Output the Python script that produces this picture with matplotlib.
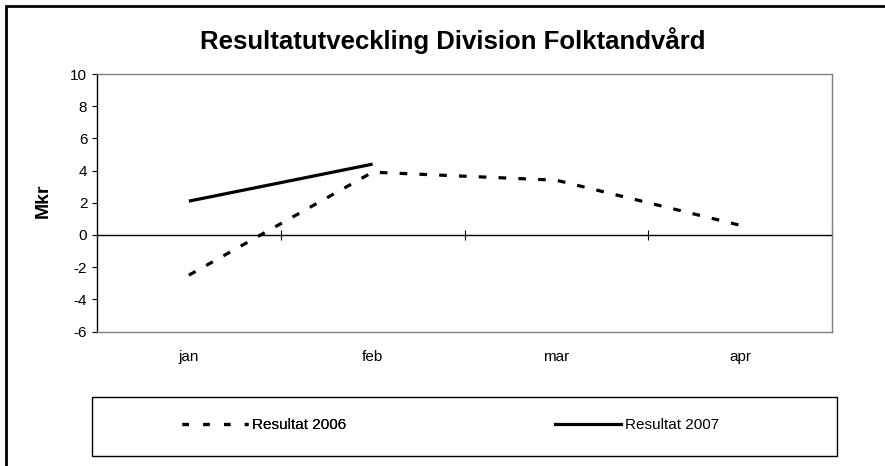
import matplotlib.pyplot as plt
import numpy as np
from matplotlib.patches import Rectangle
from matplotlib.lines import Line2D

plt.rcParams['font.family'] = ['Liberation Sans', 'DejaVu Sans']
plt.rcParams['axes.unicode_minus'] = False

# données
months = ["jan", "feb", "mar", "apr"]
res_2006 = [-2.5, 3.9, 3.4, 0.6]
res_2007 = [2.1, 4.4]
y_ticks = [-6, -4, -2, 0, 2, 4, 6, 8, 10]

W, H = 885, 466
fig = plt.figure(figsize=(W / 100, H / 100), dpi=100)
ax = fig.add_axes([97 / W, 1 - 331.5 / H, (832 - 97) / W, (331.5 - 74) / H])

x = np.arange(len(months))

ax.plot(x, res_2006, color="black", linewidth=2.3, linestyle=(0, (2.4, 3.8)),
        dash_capstyle="butt", solid_joinstyle="round")
ax.plot(x[:len(res_2007)], res_2007, color="black", linewidth=2.3, solid_capstyle="butt")

ax.set_xlim(-0.5, len(months) - 0.5)
ax.set_ylim(-6, 10)
ax.set_yticks(y_ticks)
ax.tick_params(axis="y", direction="out", length=3.5, width=0.8, labelsize=11, pad=3.5)
ax.set_xticks(x)
ax.set_xticklabels(months)
ax.tick_params(axis="x", length=0, labelsize=11, pad=13)

for side in ["top", "right", "bottom"]:
    ax.spines[side].set_color("#808080")
    ax.spines[side].set_linewidth(1)
ax.spines["left"].set_color("black")
ax.spines["left"].set_linewidth(1)

# axe des catégories à y = 0 avec graduations entre les mois
y0, y1 = ax.get_ylim()
sec = ax.secondary_xaxis((0 - y0) / (y1 - y0))
sec.set_xticks(np.arange(len(months)) + 0.5)
sec.set_xticklabels([])
sec.tick_params(direction="inout", length=7, width=0.8, color="black")
sec.spines["bottom"].set_color("black")
sec.spines["bottom"].set_linewidth(1)

fig.text(43 / W, 1 - 201 / H, "Mkr", rotation=90, ha="center", va="center",
         fontsize=14, fontweight="bold")
fig.text(453 / W, 1 - 41 / H, "Resultatutveckling Division Folktandvård",
         ha="center", va="center", fontsize=18.5, fontweight="bold")

# légende
fig.add_artist(Rectangle((92 / W, 1 - 456 / H), (837 - 92) / W, (456 - 397) / H,
                         transform=fig.transFigure, fill=False, edgecolor="black", linewidth=1))
h06 = Line2D([], [], color="black", linewidth=2.3, linestyle=(0, (2.0, 4.5)))
h07 = Line2D([], [], color="black", linewidth=2.3)
leg1 = fig.legend(handles=[h06], labels=["Resultat 2006"], loc="center left",
                  bbox_to_anchor=(182 / W, 1 - 425 / H), frameon=False, fontsize=11,
                  handlelength=4.3, handletextpad=0.3, borderpad=0, borderaxespad=0)
fig.add_artist(leg1)
fig.legend(handles=[h07], labels=["Resultat 2007"], loc="center left",
           bbox_to_anchor=(555 / W, 1 - 425 / H), frameon=False, fontsize=11,
           handlelength=4.3, handletextpad=0.3, borderpad=0, borderaxespad=0)

# cadre du graphique
fig.add_artist(Rectangle((6 / W, -0.1), 1.2, (1 - 6 / H) + 0.1, transform=fig.transFigure,
                         fill=False, edgecolor="black", linewidth=2))

fig.savefig("out.png", dpi=100)
